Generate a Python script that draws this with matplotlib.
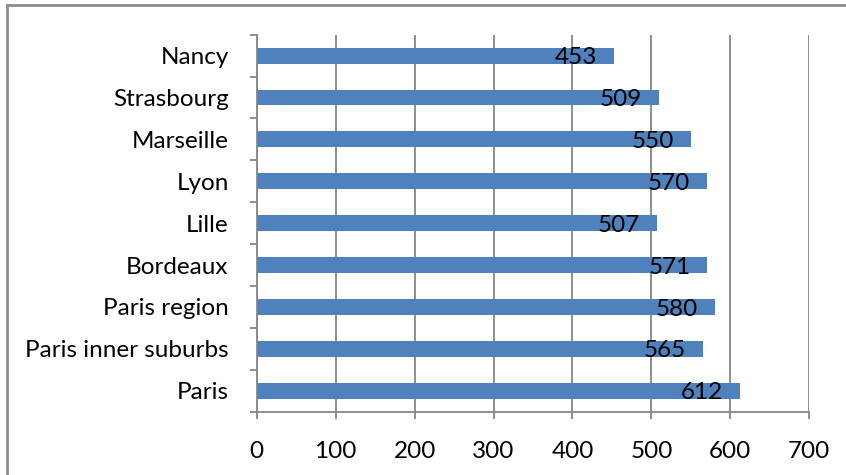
import matplotlib
matplotlib.use("Agg")
import matplotlib.pyplot as plt
from matplotlib.patches import Rectangle

# Data (top to bottom as displayed)
cities = ["Nancy", "Strasbourg", "Marseille", "Lyon", "Lille", "Bordeaux",
          "Paris region", "Paris inner suburbs", "Paris"]
values = [453, 509, 550, 570, 507, 571, 580, 565, 612]
xticks = [0, 100, 200, 300, 400, 500, 600, 700]

plt.rcParams["font.family"] = ["Lato", "DejaVu Sans"]

W, H = 846, 475
PX = 72 / 100  # points per pixel at 100 dpi
fig = plt.figure(figsize=(W / 100, H / 100), dpi=100)
fig.patch.set_facecolor("white")

left, right = 256.7 / W, 809.3 / W
top, bottom = 1 - 34.7 / H, 1 - 411.7 / H
ax = fig.add_axes([left, bottom, right - left, top - bottom])

n = len(cities)
ypos = list(range(n))[::-1]
bar_color = "#4F81BD"
grid_color = "#868686"
fs = 17.5

ax.barh(ypos, values, height=0.38, color=bar_color, zorder=3)

ax.set_xlim(0, 700)
ax.set_ylim(-0.5, n - 0.5)
ax.set_xticks(xticks)
ax.set_xticklabels([str(t) for t in xticks], fontsize=fs)
ax.set_yticks(ypos)
ax.set_yticklabels(cities, fontsize=fs)

# category separator ticks on the value axis
ax.set_yticks([i - 0.5 for i in range(n + 1)], minor=True)
ax.tick_params(axis="y", which="major", length=0, pad=28 * PX)
ax.tick_params(axis="y", which="minor", length=7 * PX, width=1.3 * PX * 1.4, color=grid_color)
ax.tick_params(axis="x", which="major", length=7 * PX, width=1.3 * PX * 1.4, color=grid_color,
               pad=16)

ax.grid(axis="x", color=grid_color, linewidth=1.3, zorder=1)
for side in ["top", "right"]:
    ax.spines[side].set_visible(False)
for side in ["left", "bottom"]:
    ax.spines[side].set_color(grid_color)
    ax.spines[side].set_linewidth(1.3)
    ax.spines[side].set_zorder(4)

# value labels inside the bar ends
for y, v in zip(ypos, values):
    ax.annotate(str(v), xy=(v, y), xytext=(-17 * PX, -1.5), textcoords="offset points",
                ha="right", va="center", fontsize=fs, color="black", zorder=5)

# chart border
fig.patches.append(Rectangle((7 / W, -0.1), 1.2, 1 - 5 / H + 0.1,
                             transform=fig.transFigure, fill=False,
                             edgecolor="#8C8C8C", linewidth=2))

fig.savefig("out.png", dpi=100)
